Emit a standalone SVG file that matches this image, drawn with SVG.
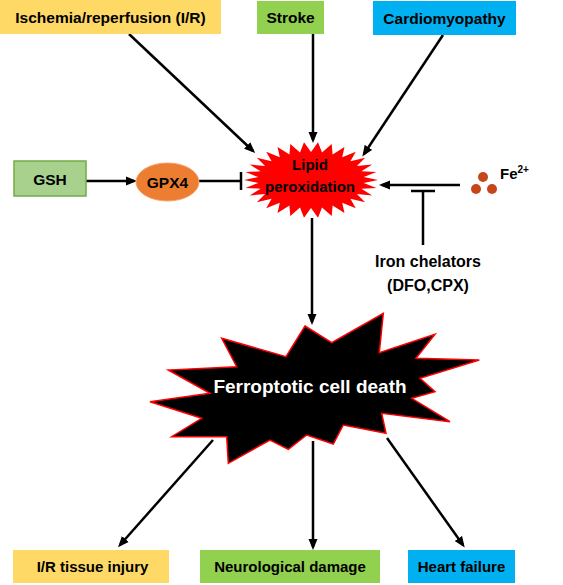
<svg xmlns="http://www.w3.org/2000/svg" width="563" height="585" viewBox="0 0 563 585">
<style>
text{font-family:"Liberation Sans",Arial,sans-serif;font-weight:bold;fill:#000;text-anchor:middle}
.c{stroke:#000;stroke-width:2.5;fill:none}
.y{fill:#ffd966}
.g{fill:#92d050}
.b{fill:#00b0f0}
</style>
<defs>
<marker id="ah" markerUnits="userSpaceOnUse" markerWidth="11" markerHeight="10" refX="8" refY="5" orient="auto">
<path d="M0,0.5 L11,5 L0,9.5 z" fill="#000"/>
</marker>
</defs>
<rect width="563" height="585" fill="#fff"/>

<g id="connectors">
<line class="c" x1="129" y1="34" x2="253" y2="151" marker-end="url(#ah)"/>
<line class="c" x1="313" y1="34" x2="313" y2="140" marker-end="url(#ah)"/>
<line class="c" x1="443" y1="35" x2="364" y2="154" marker-end="url(#ah)"/>
<line class="c" x1="86" y1="181" x2="134" y2="181" marker-end="url(#ah)"/>
<line class="c" x1="199" y1="181" x2="241" y2="181"/>
<line class="c" x1="241" y1="172" x2="241" y2="190"/>
<line class="c" x1="460" y1="185" x2="382" y2="185" marker-end="url(#ah)"/>
<line class="c" x1="423" y1="245" x2="423" y2="191"/>
<line class="c" x1="411" y1="191" x2="435" y2="191"/>
<line class="c" x1="312" y1="218" x2="312" y2="322" marker-end="url(#ah)"/>
<line class="c" x1="213" y1="440" x2="120" y2="545" marker-end="url(#ah)"/>
<line class="c" x1="313" y1="441" x2="313" y2="547" marker-end="url(#ah)"/>
<line class="c" x1="387" y1="438" x2="463" y2="545" marker-end="url(#ah)"/>
</g>

<g id="ischemia"><rect class="y" x="0" y="0" width="221" height="34"/><text x="110.5" y="23" font-size="15.5">Ischemia/reperfusion (I/R)</text></g>
<g id="stroke"><rect class="g" x="257" y="1" width="67" height="33"/><text x="290.5" y="23" font-size="15.5">Stroke</text></g>
<g id="cardiomyopathy"><rect class="b" x="373" y="1" width="143" height="34"/><text x="444.5" y="23.5" font-size="15.5">Cardiomyopathy</text></g>

<g id="gsh"><rect x="14" y="161" width="72" height="35" fill="#a9d18e" stroke="#70ad47" stroke-width="1.5"/><text x="50" y="185" font-size="15.5">GSH</text></g>
<g id="gpx4"><ellipse cx="167.5" cy="182" rx="31.5" ry="19" fill="#ed7d31" stroke="#f4a070" stroke-width="1"/><text x="167.5" y="187.5" font-size="15.5">GPX4</text></g>

<g id="lipid">
<polygon fill="#ff0000" points="378,180 363.7,182.9 376.5,187.9 361.4,188.7 372.2,195.5 356.9,194 365.2,202.3 350.4,198.7 355.8,208.2 342.2,202.7 344.5,212.9 332.6,205.6 331.7,216.1 322,207.4 318,217.8 311,208 304,217.8 300,207.4 290.3,216.1 289.4,205.6 277.5,212.9 279.8,202.7 266.2,208.2 271.6,198.7 256.8,202.3 265.1,194 249.8,195.5 260.6,188.7 245.5,187.9 258.3,182.9 244,180 258.3,177.1 245.5,172.1 260.6,171.3 249.8,164.5 265.1,166 256.8,157.7 271.6,161.3 266.2,151.8 279.8,157.3 277.5,147.1 289.4,154.4 290.3,143.9 300,152.6 304,142.2 311,152 318,142.2 322,152.6 331.7,143.9 332.6,154.4 344.5,147.1 342.2,157.3 355.8,151.8 350.4,161.3 365.2,157.7 356.9,166 372.2,164.5 361.4,171.3 376.5,172.1 363.7,177.1"/>
<text x="310" y="170" font-size="15">Lipid</text>
<text x="310" y="192" font-size="15">peroxidation</text>
</g>

<g id="fe">
<circle cx="483" cy="177" r="5" fill="#c5461b"/>
<circle cx="476" cy="189" r="5" fill="#c5461b"/>
<circle cx="492" cy="189" r="5" fill="#c5461b"/>
<text x="500" y="179" font-size="15" text-anchor="start" style="text-anchor:start">Fe<tspan font-size="10" dy="-6">2+</tspan></text>
</g>

<g id="chelators">
<text x="428" y="267" font-size="16">Iron chelators</text>
<text x="428" y="291" font-size="16">(DFO,CPX)</text>
</g>

<g id="ferroptotic">
<polygon fill="#000" stroke="#ff0000" stroke-width="1.5" stroke-linejoin="miter" points="305,326 331.7,342.7 383.3,313.3 379.3,352.7 435,334.3 416,358.3 479.3,360 420,378.3 435,391.7 411.7,398.3 450,421.7 381.7,413.3 386,433.3 343.3,425 333.3,444 306.7,435 288.3,449.3 270,440 228.3,463.3 226.7,436.7 171.7,436.7 201.7,418.3 150,401.7 210,393.3 168.3,370 236.7,366.7 221.7,338.3 286,356.7"/>
<text x="310" y="393" font-size="19" style="fill:#fff">Ferroptotic cell death</text>
</g>

<g id="ir-injury"><rect class="y" x="13" y="550" width="156" height="33"/><text x="92.5" y="572" font-size="15">I/R tissue injury</text></g>
<g id="neuro"><rect class="g" x="200" y="550" width="180" height="33"/><text x="290" y="572" font-size="15">Neurological damage</text></g>
<g id="heart"><rect class="b" x="408" y="550" width="107" height="33"/><text x="461.5" y="572" font-size="15">Heart failure</text></g>
</svg>
